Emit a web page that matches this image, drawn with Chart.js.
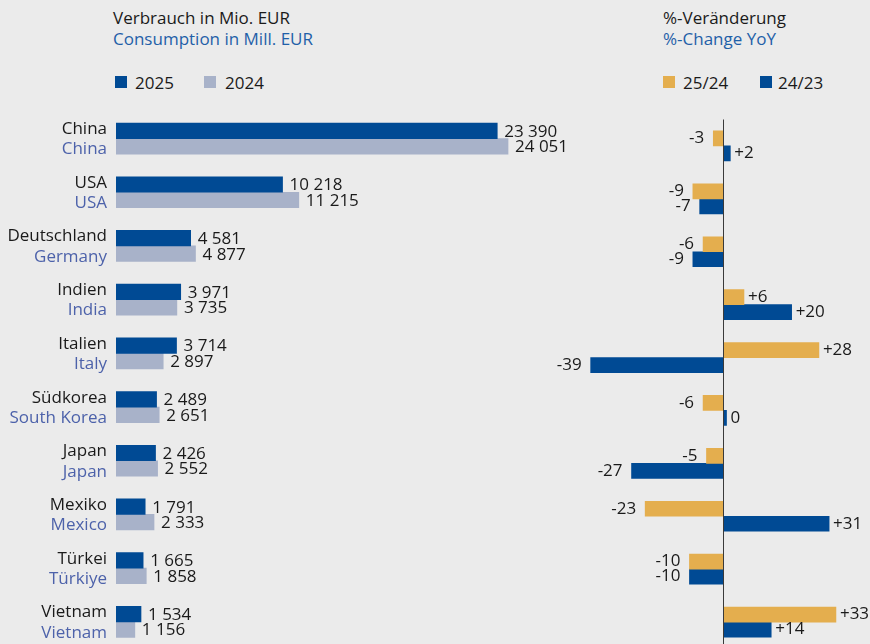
<!DOCTYPE html>
<html>
<head>
<meta charset="utf-8">
<script src="https://cdn.jsdelivr.net/npm/chart.js@4.4.1/dist/chart.umd.min.js"></script>
<style>
    html, body { margin: 0; padding: 0; background: #ebebeb; width: 870px; height: 644px; overflow: hidden; font-family: "Open Sans", sans-serif; }
    .abs { position: absolute; white-space: nowrap; font-size: 17px; line-height: 21px; color: #1a1a1a; }
    .blue { color: #1f60a8; }
    .sw { position: absolute; width: 12px; height: 12px; }
    canvas { position: absolute; top: 0; }
</style>
</head>
<body>
<div class="abs" style="left:113px; top:7px;">Verbrauch in Mio. EUR</div>
<div class="abs blue" style="left:113px; top:28px;">Consumption in Mill. EUR</div>
<div class="sw" style="left:115px; top:76px; background:#004a94;"></div>
<div class="abs" style="left:135px; top:72px;">2025</div>
<div class="sw" style="left:204px; top:76px; background:#a8b2c9;"></div>
<div class="abs" style="left:225px; top:72px;">2024</div>

<div class="abs" style="left:663px; top:7px;">%-Veränderung</div>
<div class="abs blue" style="left:663px; top:28px;">%-Change YoY</div>
<div class="sw" style="left:663px; top:76px; background:#e4ae4e;"></div>
<div class="abs" style="left:683px; top:72px;">25/24</div>
<div class="sw" style="left:760px; top:76px; background:#004a94;"></div>
<div class="abs" style="left:778px; top:72px;">24/23</div>

<canvas id="consumption-chart" width="605" height="660" style="left:0px;"></canvas>
<canvas id="change-chart" width="340" height="660" style="left:530px;"></canvas>

<script>
// Data
const categoriesDe = ['China', 'USA', 'Deutschland', 'Indien', 'Italien', 'Südkorea', 'Japan', 'Mexiko', 'Türkei', 'Vietnam'];
const categoriesEn = ['China', 'USA', 'Germany', 'India', 'Italy', 'South Korea', 'Japan', 'Mexico', 'Türkiye', 'Vietnam'];
const values2025 = [23390, 10218, 4581, 3971, 3714, 2489, 2426, 1791, 1665, 1534];
const values2024 = [24051, 11215, 4877, 3735, 2897, 2651, 2552, 2333, 1858, 1156];
const change2524 = [-3, -9, -6, 6, 28, -6, -5, -23, -10, 33];
const change2423 = [2, -7, -9, 20, -39, 0.4, -27, 31, -10, 14];

const DARK_BLUE = '#004a94';
const LIGHT_BLUE = '#a8b2c9';
const GOLD = '#e4ae4e';
const TEXT = '#1a1a1a';
const TEXT_EN = '#4d62aa';
const FONT = '17px "Open Sans", sans-serif';

function fmtThousands(v) {
    return String(v).replace(/\B(?=(\d{3})+(?!\d))/g, ' ');
}

function fmtChange(v) {
    const r = Math.round(v);
    return r > 0 ? '+' + r : String(r);
}

// category names + value labels for the left chart
const leftLabels = {
    id: 'leftLabels',
    afterDatasetsDraw(chart) {
        const ctx = chart.ctx;
        const yScale = chart.scales.y;
        ctx.save();
        ctx.font = FONT;
        ctx.textAlign = 'right';
        ctx.textBaseline = 'alphabetic';
        categoriesDe.forEach((name, i) => {
            const y = yScale.getPixelForValue(i);
            ctx.fillStyle = TEXT;
            ctx.fillText(name, chart.chartArea.left - 9, y - 4.5);
            ctx.fillStyle = TEXT_EN;
            ctx.fillText(categoriesEn[i], chart.chartArea.left - 9, y + 15.8);
        });
        ctx.textAlign = 'left';
        ctx.textBaseline = 'middle';
        ctx.fillStyle = TEXT;
        chart.data.datasets.forEach((ds, di) => {
            chart.getDatasetMeta(di).data.forEach((bar, i) => {
                ctx.fillText(fmtThousands(ds.data[i]), bar.x + 7, bar.y + 1);
            });
        });
        ctx.restore();
    }
};

// zero line + value labels for the right chart
const rightLabels = {
    id: 'rightLabels',
    afterDatasetsDraw(chart) {
        const ctx = chart.ctx;
        const x0 = chart.scales.x.getPixelForValue(0);
        ctx.save();
        ctx.strokeStyle = '#3a3a3a';
        ctx.lineWidth = 1;
        ctx.beginPath();
        ctx.moveTo(Math.round(x0) - 0.5, chart.chartArea.top);
        ctx.lineTo(Math.round(x0) - 0.5, chart.chartArea.bottom);
        ctx.stroke();

        ctx.font = FONT;
        ctx.textBaseline = 'middle';
        ctx.fillStyle = TEXT;
        chart.data.datasets.forEach((ds, di) => {
            chart.getDatasetMeta(di).data.forEach((bar, i) => {
                const v = ds.data[i];
                if (v < 0) {
                    ctx.textAlign = 'right';
                    ctx.fillText(fmtChange(v), bar.x - 9, bar.y);
                } else {
                    ctx.textAlign = 'left';
                    ctx.fillText(fmtChange(v), bar.x + 4, bar.y);
                }
            });
        });
        ctx.restore();
    }
};

new Chart(document.getElementById('consumption-chart'), {
    type: 'bar',
    data: {
        labels: categoriesDe,
        datasets: [
            { label: '2025', data: values2025, backgroundColor: DARK_BLUE, barThickness: 15.5, borderWidth: 0 },
            { label: '2024', data: values2024, backgroundColor: LIGHT_BLUE, barThickness: 15.5, borderWidth: 0 },
        ]
    },
    options: {
        indexAxis: 'y',
        responsive: false,
        animation: false,
        layout: { padding: { left: 116, right: 0, top: 111.7, bottom: 11.3 } },
        plugins: { legend: { display: false }, tooltip: { enabled: false } },
        scales: {
            x: { display: false, min: 0, max: 30000 },
            y: { display: false }
        }
    },
    plugins: [leftLabels]
});

new Chart(document.getElementById('change-chart'), {
    type: 'bar',
    data: {
        labels: categoriesEn,
        datasets: [
            { label: '25/24', data: change2524, backgroundColor: GOLD, barThickness: 15, borderWidth: 0, minBarLength: 3 },
            { label: '24/23', data: change2423, backgroundColor: DARK_BLUE, barThickness: 15, borderWidth: 0, minBarLength: 3 },
        ]
    },
    options: {
        indexAxis: 'y',
        responsive: false,
        animation: false,
        layout: { padding: { left: 30, right: 0, top: 119.5, bottom: 11.5 } },
        plugins: { legend: { display: false }, tooltip: { enabled: false } },
        scales: {
            x: { display: false, min: -48, max: 43 },
            y: { display: false }
        }
    },
    plugins: [rightLabels]
});
</script>
</body>
</html>
